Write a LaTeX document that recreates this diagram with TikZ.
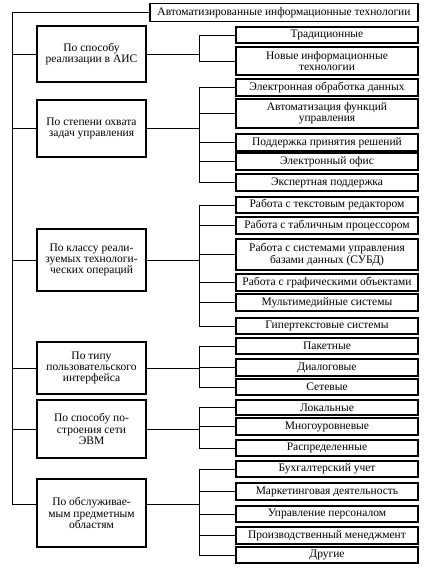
\documentclass[tikz,border=0pt]{standalone}
\usepackage{fontspec}
\setmainfont{Liberation Serif}
\begin{document}
\begin{tikzpicture}[x=1pt,y=-1pt,
  every node/.style={font=\fontsize{11.5}{11.3}\selectfont, align=center, inner sep=0pt},
  cbox/.style={draw, line width=1.1pt, minimum width=109pt},
  rbox/.style={draw, line width=1.1pt, minimum width=182pt},
  link/.style={line width=0.9pt}]
\useasboundingbox (0,0) rectangle (425,569);
\coordinate (T) at (12,0);
\coordinate (B) at (199,0);
% top
\node[draw, line width=1.1pt, minimum width=268pt, minimum height=18pt] (top) at (284,12.5) {Автоматизированные информационные технологии};
% categories
\node[cbox, minimum height=56pt] (c1) at (91.5,54) {По способу\\реализации в АИС};
\node[cbox, minimum height=57pt] (c2) at (91.5,128.5) {По степени охвата\\задач управления};
\node[cbox, minimum height=62pt] (c3) at (91.5,260) {По классу реали-\\зуемых технологи-\\ческих операций};
\node[cbox, minimum height=52pt] (c4) at (91.5,368) {По типу\\пользовательского\\интерфейса};
\node[cbox, minimum height=58pt] (c5) at (91.5,429) {По способу по-\\строения сети\\ЭВМ};
\node[cbox, minimum height=68pt] (c6) at (91.5,513) {По обслуживае-\\мым предметным\\областям};
% group 1
\node[rbox, minimum height=16pt] (r11) at (327,35) {Традиционные};
\node[rbox, minimum height=28pt] (r12) at (327,61) {Новые информационные\\технологии};
% group 2
\node[rbox, minimum height=17pt] (r21) at (327,87.5) {Электронная обработка данных};
\node[rbox, minimum height=29pt] (r22) at (327,113.5) {Автоматизация функций\\управления};
\node[rbox, minimum height=17pt] (r23) at (327,142.5) {Поддержка принятия решений};
\node[rbox, minimum height=17pt] (r24) at (327,161.5) {Электронный офис};
\node[rbox, minimum height=17pt] (r25) at (327,182.5) {Экспертная поддержка};
% group 3
\node[rbox, minimum height=16pt] (r31) at (327,205) {Работа с текстовым редактором};
\node[rbox, minimum height=17pt] (r32) at (327,225.5) {Работа с табличным процессором};
\node[rbox, minimum height=31pt] (r33) at (327,254.5) {Работа с системами управления\\базами данных (СУБД)};
\node[rbox, minimum height=17pt] (r34) at (327,282.5) {Работа с графическими объектами};
\node[rbox, minimum height=17pt] (r35) at (327,302.5) {Мультимедийные системы};
\node[rbox, minimum height=16pt] (r36) at (327,326) {Гипертекстовые системы};
% group 4
\node[rbox, minimum height=16pt] (r41) at (327,346) {Пакетные};
\node[rbox, minimum height=17pt] (r42) at (327,367.5) {Диалоговые};
\node[rbox, minimum height=16pt] (r43) at (327,387) {Сетевые};
% group 5
\node[rbox, minimum height=15pt] (r51) at (327,407.5) {Локальные};
\node[rbox, minimum height=17pt] (r52) at (327,426.5) {Многоуровневые};
\node[rbox, minimum height=16pt] (r53) at (327,448) {Распределенные};
% group 6
\node[rbox, minimum height=16pt] (r61) at (327,469) {Бухгалтерский учет};
\node[rbox, minimum height=17pt] (r62) at (327,491.5) {Маркетинговая деятельность};
\node[rbox, minimum height=16pt] (r63) at (327,514) {Управление персоналом};
\node[rbox, minimum height=17pt] (r64) at (327,535.5) {Производственный менеджмент};
\node[rbox, minimum height=16pt] (r65) at (327,555) {Другие};
% trunk
\draw[link] (top.west) -- (top.west -| T) -- ([yshift=9pt]c6.west -| T) -- ([yshift=9pt]c6.west);
\foreach \c in {c1,c2,c3,c4,c5} \draw[link] (\c.west -| T) -- (\c.west);
% brackets
\foreach \c/\f/\l/\all in {c1/r11/r12/{r11,r12}, c2/r21/r25/{r21,r22,r23,r24,r25}, c3/r31/r36/{r31,r32,r33,r34,r35,r36}, c4/r41/r43/{r41,r42,r43}, c5/r51/r53/{r51,r52,r53}}{
  \draw[link] (\c.east) -- (\c.east -| B);
  \draw[link] (\f.west -| B) -- (\l.west -| B);
  \foreach \r in \all \draw[link] (\r.west -| B) -- (\r.west);
}
\draw[link] ([yshift=9pt]c6.east) -- ([yshift=9pt]c6.east -| B);
\draw[link] (r61.west -| B) -- (r65.west -| B);
\foreach \r in {r61,r62,r63,r64,r65} \draw[link] (\r.west -| B) -- (\r.west);
\end{tikzpicture}
\end{document}
